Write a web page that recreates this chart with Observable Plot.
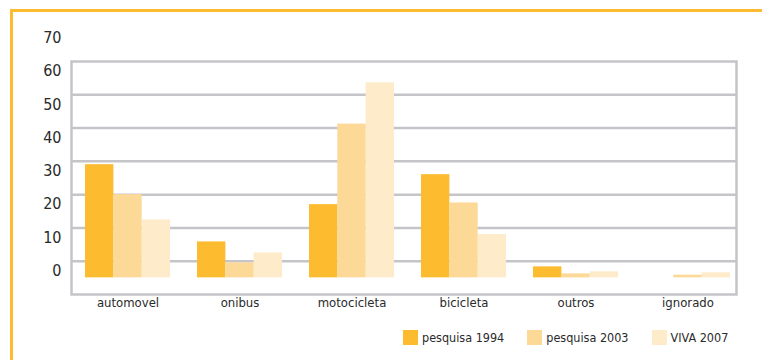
<!DOCTYPE html>
<html>
<head>
<meta charset="utf-8">
<script src="https://cdn.jsdelivr.net/npm/d3@7"></script>
<script src="https://cdn.jsdelivr.net/npm/@observablehq/plot@0.6"></script>
<style>
  body { margin: 0; background: #fff; }
  #wrap { position: relative; width: 762px; height: 360px; overflow: hidden; font-family: "DejaVu Sans Condensed", "Liberation Sans Narrow", sans-serif; }
  #border { position: absolute; left: 10px; top: 9px; right: -5px; bottom: -5px; border-top: 3px solid #fdbb30; border-left: 3px solid #fdbb30; }
  #chart { position: absolute; left: 0; top: 0; }
  #legend { position: absolute; left: 403px; top: 330px; display: flex; align-items: center; font-size: 12.5px; color: #2a2a2a; white-space: nowrap; }
  .item { display: flex; align-items: center; margin-right: 23px; }
  .sw { width: 15px; height: 15px; margin-right: 4px; flex: none; }
</style>
</head>
<body>
<div id="wrap">
  <div id="border"></div>
  <div id="chart"></div>
  <div id="legend"></div>
</div>
<script>
// Data (percent)
const categories = ["automovel", "onibus", "motocicleta", "bicicleta", "outros", "ignorado"];
const seriesNames = ["pesquisa 1994", "pesquisa 2003", "VIVA 2007"];
const values1994 = [34.0, 10.8, 22.0, 31.0, 3.3, 0.0];
const values2003 = [25.0, 4.5, 46.2, 22.5, 1.2, 0.8];
const values2007 = [17.4, 7.5, 58.6, 13.0, 1.8, 1.5];
const yTickLabels = [0, 10, 20, 30, 40, 50, 60, 70];
const gridValues = [5, 15, 25, 35, 45, 55];
const colors = ["#fdbb2f", "#fdd998", "#fdebc9"];

const seriesValues = [values1994, values2003, values2007];
const rows = [];
seriesNames.forEach((s, si) => categories.forEach((c, ci) => rows.push({category: c, series: s, si, value: seriesValues[si][ci]})));

const width = 762, height = 310;
const xRange = [56.5, 759], pad = 0.245;
const step = (xRange[1] - xRange[0]) / (categories.length - pad + 2 * pad);
const bw = step * (1 - pad);
const third = bw / 3;

const grid = "#c5c4c9";
const plot = Plot.plot({
  width, height,
  marginLeft: 71, marginRight: 26, marginTop: 61, marginBottom: 16,
  style: {fontFamily: '"DejaVu Sans Condensed", "Liberation Sans Narrow", sans-serif', background: "transparent"},
  x: {domain: categories, range: xRange, paddingInner: pad, paddingOuter: pad, axis: null},
  y: {domain: [-5, 65], axis: null},
  color: {domain: seriesNames, range: colors},
  marks: [
    Plot.ruleY(gridValues, {stroke: grid, strokeWidth: 2.5}),
    Plot.frame({stroke: grid, strokeWidth: 2.5}),
    ...seriesNames.map((s, si) => Plot.barY(rows.filter(d => d.si === si), {
      x: "category", y: "value", fill: "series",
      insetLeft: si * third, insetRight: (2 - si) * third
    })),
    Plot.axisY({ticks: yTickLabels, tickSize: 0, tickPadding: 10, dy: -7, fontSize: 16, fill: "#2a2a2a", label: null}),
    Plot.axisX({tickSize: 0, tickPadding: 3, fontSize: 13, fill: "#2a2a2a", label: null})
  ]
});
document.getElementById("chart").appendChild(plot);

const legend = document.getElementById("legend");
seriesNames.forEach((s, i) => {
  const it = document.createElement("div");
  it.className = "item";
  it.innerHTML = `<div class="sw" style="background:${colors[i]}"></div><span>${s}</span>`;
  legend.appendChild(it);
});
</script>
</body>
</html>
